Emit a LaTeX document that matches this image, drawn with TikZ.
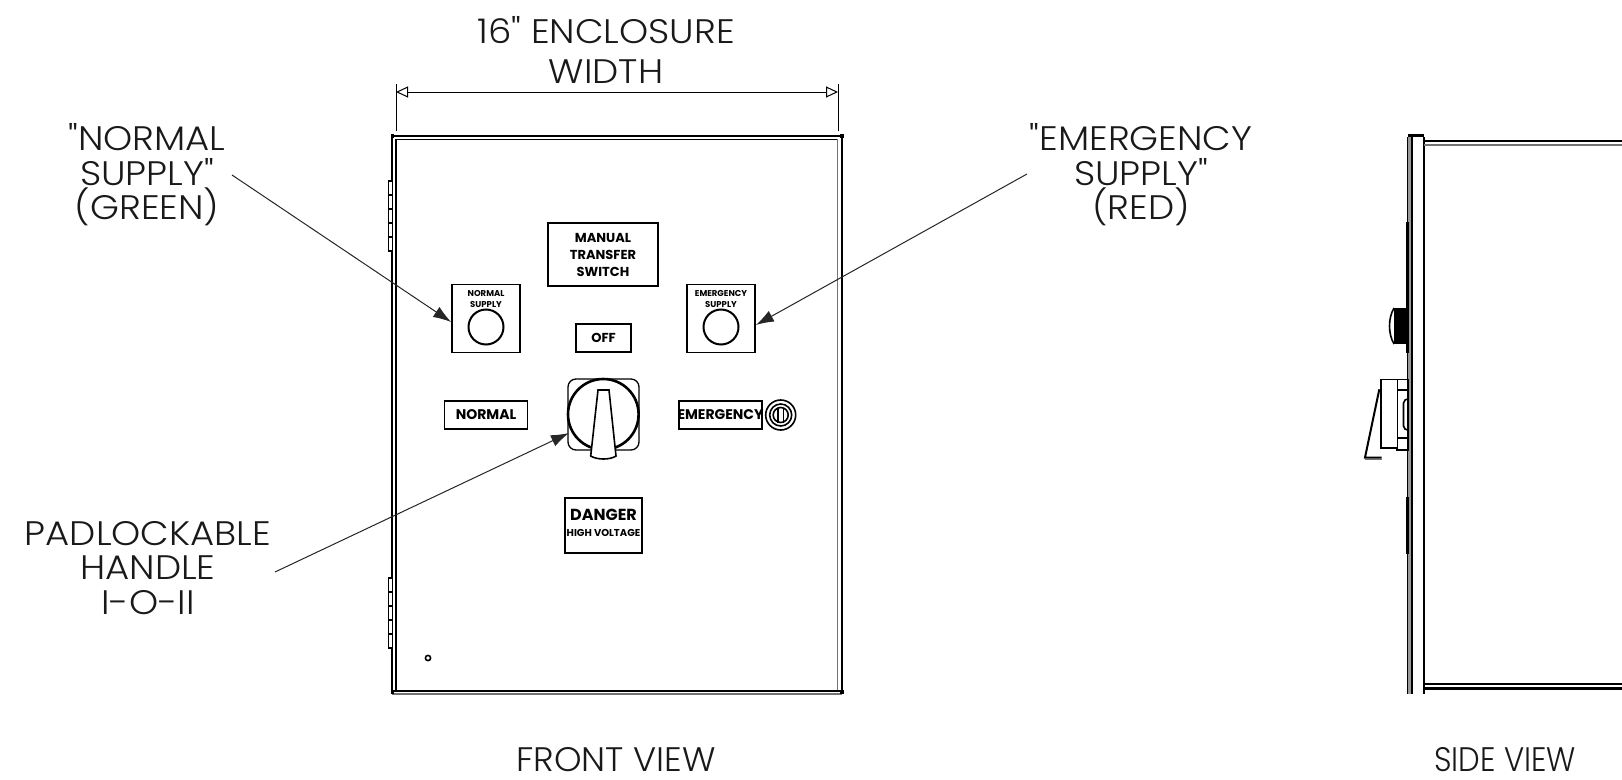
\documentclass[tikz,border=0pt]{standalone}
\usepackage{fontspec}
\setmainfont{Poppins}
\newfontfamily\lightf[FakeStretch=1.09]{Poppins Light}
\newfontfamily\lightg{Poppins Light}
\usetikzlibrary{arrows.meta,calc}
\tikzset{
 x=1pt,y=-1pt,
 callout/.style={font=\lightf\fontsize{34}{34.6}\selectfont,align=center,text=black!90,inner sep=0pt},
 plate/.style={draw=black,line width=1.7pt,fill=white,inner sep=0pt,anchor=center},
 pltext/.style={font=\bfseries\fontsize{13}{17}\selectfont,align=center,inner sep=0pt},
 smalltext/.style={font=\bfseries\fontsize{8.5}{11}\selectfont,align=center,inner sep=0pt},
 leader/.style={draw=black!85,line width=1pt,-{Latex[length=18pt,width=12pt]}},
 thinl/.style={draw=black,line width=1pt},
 med/.style={draw=black,line width=1.6pt},
 greyl/.style={draw=black!55,line width=1.4pt},
 thick2/.style={draw=black,line width=2.4pt}
}
\begin{document}
\begin{tikzpicture}
\useasboundingbox (0,0) rectangle (1622,779);
\fill[white] (0,0) rectangle (1622,779);
\node[callout] (dimtxt) at (606,50) {16" ENCLOSURE\\[6pt]WIDTH};
\coordinate (dl) at (396,92); \coordinate (dr) at (838,92);
\draw[thinl] (396,84)--(396,131); \draw[thinl] (838,84)--(838,131);
\draw[thinl,{Triangle[open,length=12pt,width=11pt]}-{Triangle[open,length=12pt,width=11pt]}] (dl)--(dr);
% enclosure
\draw[greyl] (392,694)--(842,694);
\draw[med] (396,139.5)--(838,139.5);
\draw[med] (391.8,135)--(391.8,694); \draw[med] (395.8,139)--(395.8,691);
\draw[greyl] (837.5,139)--(837.5,691); \draw[med] (841.7,135)--(841.7,694);
\draw[thick2] (391.5,136)--(842,136);
\draw[thick2] (391.5,691)--(842,691);
\fill[black] (390.5,134) rectangle (394,137.5);
\fill[black] (840,134) rectangle (843.5,137.5);
\fill[black] (390.5,689.5) rectangle (394,693.5);
\fill[black] (840,689.5) rectangle (843.5,693.5);
\draw[med,fill=white] (391.5,181)--(388.5,181)--(388.5,251)--(391.5,251);
\foreach \y in {195,209,223,237}{\draw[med](388.5,\y)--(391.5,\y);}
\draw[med,fill=white] (391.5,578)--(388.5,578)--(388.5,648)--(391.5,648);
\foreach \y in {592,606,620,634}{\draw[med](388.5,\y)--(391.5,\y);}
\draw[med] (428,658) circle (2.6);
% plates
\node[plate,minimum width=110pt,minimum height=63pt] (mts) at (603,254.5) {};
\node[pltext] at (mts.center) {MANUAL\\TRANSFER\\SWITCH};
\node[plate,minimum width=68pt,minimum height=68pt] (ns) at (486,318.5) {};
\node[smalltext] at (486,299) {NORMAL\\SUPPLY};
\draw[draw=black,line width=2pt] (486,327) circle (17.5);
\node[plate,minimum width=68pt,minimum height=68pt] (es) at (721,318.5) {};
\node[smalltext] at (721,299) {EMERGENCY\\SUPPLY};
\draw[draw=black,line width=2pt] (721,327) circle (17.5);
\node[plate,minimum width=55pt,minimum height=28pt] (off) at (603.5,338) {};
\node[pltext] at (off.center) {OFF};
\node[plate,minimum width=83pt,minimum height=28pt] (nor) at (486,415) {};
\node[pltext,font=\bfseries\fontsize{14}{16}\selectfont] at (nor.center) {NORMAL};
\node[plate,minimum width=83pt,minimum height=28pt] (emg) at (720.5,415) {};
\node[pltext,font=\bfseries\fontsize{14}{16}\selectfont] at (emg.center) {EMERGENCY};
\draw[med] (780.7,415) circle (15); \draw[med] (780.7,415) circle (11); \draw[med] (780.7,415) circle (7.5);
\draw[med] (778,407.5)--(778,422.5) (783.5,407.5)--(783.5,422.5);
% handle
\draw[draw=black,line width=1.3pt,rounded corners=8pt] (568,379) rectangle (639,450);
\draw[draw=black,line width=2.6pt] (603.3,414.3) circle (35.3);
\draw[med,fill=white] (598,390)--(609,390)--(616,456) .. controls (610,460) and (597,460) .. (590.7,456)--cycle;
\node[plate,minimum width=77pt,minimum height=55pt] (dng) at (603.5,525.5) {};
\node[pltext,font=\bfseries\fontsize{16}{18}\selectfont] at (603.5,515) {DANGER};
\node[pltext,font=\bfseries\fontsize{10}{10}\selectfont] at (603.5,533) {HIGH VOLTAGE};
% callouts
\node[callout] (c1) at (147,175) {"NORMAL\\SUPPLY"\\(GREEN)};
\node[callout] (c2) at (1141,175) {"EMERGENCY\\SUPPLY"\\(RED)};
\node[callout] (c3) at (148,568) {PADLOCKABLE\\HANDLE\\I-O-II};
\coordinate (l1) at (232,175); \coordinate (l2) at (1027,174); \coordinate (l3) at (275,572);
\draw[leader] (l1)--(ns.west |- 0,322);
\draw[leader] (l2)--(es.east |- 0,325);
\draw[leader] (l3)--(569,433);
% side view
\fill[black!40] (1407.5,137) rectangle (1411.5,694);
\draw[med] (1407.3,137)--(1407.3,694);
\draw[med] (1411.7,137)--(1411.7,694);
\draw[med] (1423.8,137)--(1423.8,694);
\draw[thick2] (1408,135.5)--(1424,135.5);
\draw[thick2] (1424,141)--(1622,141);
\draw[greyl] (1424,145)--(1622,145);
\draw[med] (1424,684)--(1622,684);
\draw[thick2] (1424,688.5)--(1622,688.5);
\fill[black] (1405.5,222) rectangle (1408.5,353);
\fill[black] (1405.5,497) rectangle (1408.5,554);
\fill[black] (1394,308) rectangle (1407,344);
\draw[med] (1394,308) .. controls (1388,318) and (1388,334) .. (1394,344);
% side handle
\draw[med,fill=white] (1396.7,379.3) rectangle (1407.7,450);
\draw[med] (1396.7,390)--(1407.7,390) (1396.7,438)--(1407.7,438);
\draw[med] (1407.7,399)--(1405,400)--(1403.5,403)--(1403.5,426)--(1405,429)--(1407.7,430);
\draw[med,fill=white] (1396.7,379.3)--(1380.7,379.3)--(1380.7,448)--(1396.7,448);
\draw[draw=black,line width=2pt] (1379.3,389.3)--(1365,457.5)--(1381.5,457.5);
\draw[greyl] (1365,459.5)--(1381.5,459.5);
\node[font=\lightg\fontsize{34}{34}\selectfont\addfontfeature{FakeStretch=1.03},text=black!90,inner sep=0pt] (fv) at (616,760) {FRONT VIEW};
\node[font=\lightg\fontsize{34}{34}\selectfont\addfontfeature{FakeStretch=.9},text=black!90,inner sep=0pt] (sv) at (1505,760) {SIDE VIEW};
\end{tikzpicture}
\end{document}
